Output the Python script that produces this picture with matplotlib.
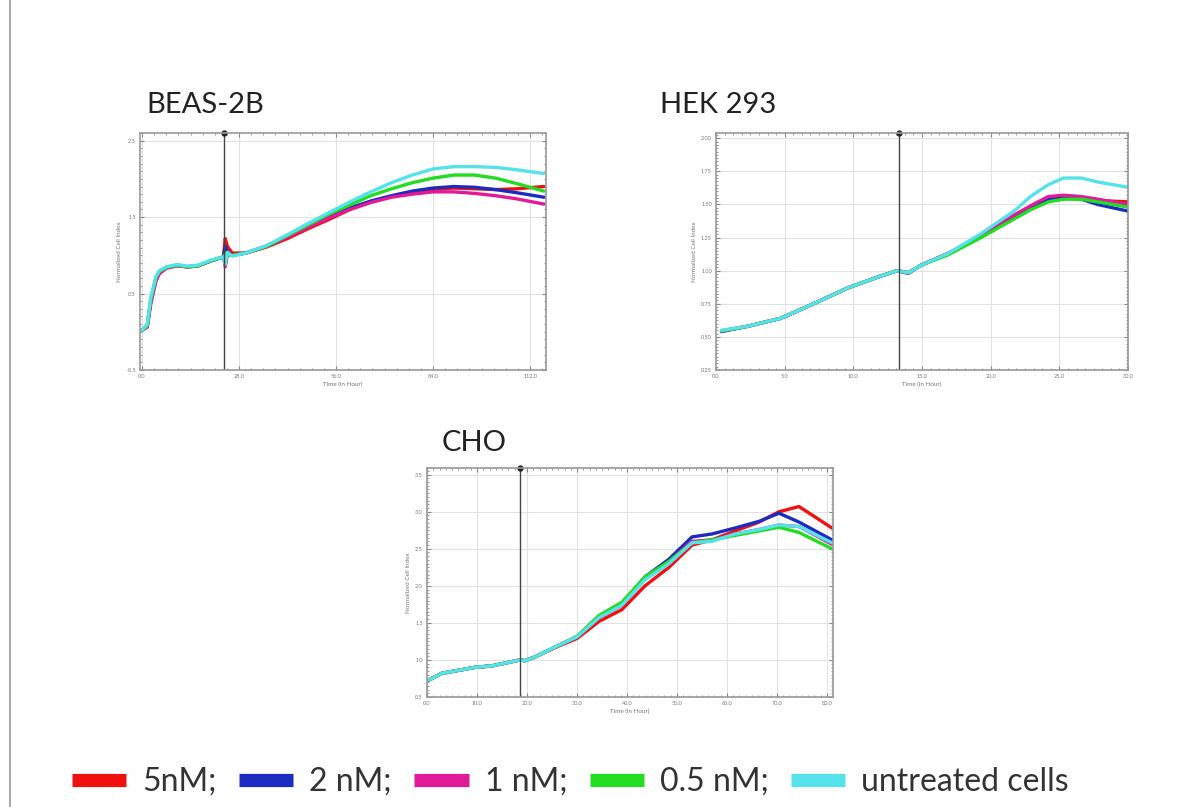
import matplotlib
matplotlib.use("Agg")
import matplotlib.pyplot as plt
from matplotlib.lines import Line2D
from matplotlib.ticker import AutoMinorLocator

plt.rcParams['font.family'] = ['Lato', 'DejaVu Sans']

series_names = ["5nM;", "2 nM;", "1 nM;", "0.5 nM;", "untreated cells"]
series_colors = ["#f01010", "#1c2cc0", "#e21a9a", "#22dd22", "#55e2ea"]

# BEAS-2B (normalized cell index vs time in hours)
beas_t = [0, 1.5, 2.5, 4, 5, 7, 10, 13, 16, 20, 23.5, 24, 24.6, 26, 30, 36, 42,
          48, 54, 60, 66, 72, 78, 84, 90, 96, 102, 108, 116]
beas_5nm = [0.02, 0.08, 0.40, 0.70, 0.78, 0.84, 0.87, 0.85, 0.86, 0.93, 0.98, 1.22, 1.12,
            1.03, 1.03, 1.11, 1.22, 1.35, 1.47, 1.60, 1.70, 1.77, 1.82, 1.86, 1.88,
            1.87, 1.86, 1.87, 1.90]
beas_2nm = [0.02, 0.08, 0.40, 0.70, 0.78, 0.84, 0.87, 0.85, 0.86, 0.93, 0.98, 1.12, 1.04,
            1.00, 1.03, 1.12, 1.25, 1.38, 1.50, 1.62, 1.71, 1.78, 1.84, 1.88, 1.90,
            1.89, 1.86, 1.82, 1.76]
beas_1nm = [0.02, 0.06, 0.36, 0.66, 0.76, 0.83, 0.86, 0.85, 0.86, 0.93, 0.98, 0.85, 1.00,
            1.00, 1.03, 1.12, 1.24, 1.37, 1.49, 1.60, 1.69, 1.76, 1.80, 1.83, 1.83,
            1.81, 1.78, 1.74, 1.67]
beas_05nm = [0.02, 0.08, 0.42, 0.71, 0.79, 0.84, 0.87, 0.85, 0.86, 0.93, 0.98, 1.02, 1.00,
             1.00, 1.03, 1.12, 1.26, 1.40, 1.54, 1.66, 1.78, 1.87, 1.95, 2.01, 2.05,
             2.05, 2.01, 1.94, 1.84]
beas_untr = [0.02, 0.10, 0.45, 0.72, 0.80, 0.85, 0.88, 0.86, 0.87, 0.94, 0.98, 0.88, 1.04,
             0.99, 1.03, 1.13, 1.27, 1.42, 1.56, 1.70, 1.83, 1.95, 2.05, 2.13, 2.16,
             2.16, 2.15, 2.12, 2.07]

# HEK 293
hek_t = [0.4, 2.3, 4.7, 7.1, 9.6, 12.0, 13.2, 14.0, 14.9, 16.9, 19.3, 21.7, 22.9,
         24.2, 25.3, 26.6, 27.8, 30.0]
hek_5nm = [0.545, 0.58, 0.64, 0.75, 0.87, 0.96, 1.0, 0.985, 1.04, 1.13, 1.26, 1.41,
           1.48, 1.55, 1.56, 1.55, 1.53, 1.52]
hek_2nm = [0.54, 0.58, 0.64, 0.75, 0.87, 0.96, 1.0, 0.98, 1.04, 1.13, 1.26, 1.41,
           1.48, 1.54, 1.55, 1.54, 1.50, 1.45]
hek_1nm = [0.545, 0.58, 0.64, 0.75, 0.87, 0.96, 1.0, 0.985, 1.04, 1.13, 1.27, 1.42,
           1.49, 1.56, 1.57, 1.56, 1.54, 1.50]
hek_05nm = [0.545, 0.58, 0.64, 0.75, 0.87, 0.96, 1.0, 0.985, 1.04, 1.12, 1.25, 1.39,
            1.46, 1.52, 1.54, 1.54, 1.52, 1.48]
hek_untr = [0.55, 0.58, 0.64, 0.75, 0.87, 0.96, 1.0, 0.985, 1.04, 1.13, 1.28, 1.45,
            1.56, 1.65, 1.70, 1.70, 1.67, 1.63]

# CHO
cho_t = [0.4, 3, 9.6, 13, 18.6, 19.6, 21.6, 26.4, 30, 34.4, 39, 43.6, 48.4, 53, 57,
         61.6, 66.4, 70.4, 74.4, 81]
cho_5nm = [0.73, 0.82, 0.90, 0.92, 1.0, 0.99, 1.04, 1.19, 1.29, 1.52, 1.68, 2.00, 2.25,
           2.55, 2.62, 2.74, 2.86, 3.00, 3.07, 2.78]
cho_2nm = [0.73, 0.82, 0.90, 0.92, 1.0, 0.99, 1.04, 1.20, 1.31, 1.58, 1.76, 2.12, 2.36,
           2.66, 2.70, 2.78, 2.87, 2.98, 2.86, 2.62]
cho_1nm = [0.73, 0.82, 0.90, 0.92, 1.0, 0.99, 1.04, 1.20, 1.31, 1.57, 1.74, 2.10, 2.33,
           2.60, 2.62, 2.70, 2.76, 2.82, 2.80, 2.56]
cho_05nm = [0.73, 0.82, 0.90, 0.92, 1.0, 0.99, 1.04, 1.20, 1.32, 1.60, 1.78, 2.12, 2.33,
            2.58, 2.62, 2.68, 2.74, 2.79, 2.72, 2.50]
cho_untr = [0.73, 0.82, 0.90, 0.92, 1.0, 0.99, 1.04, 1.20, 1.31, 1.57, 1.74, 2.08, 2.30,
            2.58, 2.60, 2.70, 2.76, 2.82, 2.80, 2.58]

W, H = 1200, 807
fig = plt.figure(figsize=(W / 100, H / 100), dpi=100)


def box(l, t, r, b):
    # pixel box -> figure fraction
    return [l / W, 1 - b / H, (r - l) / W, (b - t) / H]


def panel(rect, t, ys, xlim, xticks, xfmt, ylim, yticks, yfmt, t_treat):
    ax = fig.add_axes(rect)
    for y, c in zip(ys, series_colors):
        ax.plot(t, y, color=c, lw=2.4, solid_capstyle="round")
    ax.set_xlim(xlim)
    ax.set_ylim(ylim)
    ax.set_xticks(xticks)
    ax.set_xticklabels([xfmt.format(v) for v in xticks])
    ax.set_yticks(yticks)
    ax.set_yticklabels([yfmt.format(v) for v in yticks])
    ax.xaxis.set_minor_locator(AutoMinorLocator(8))
    ax.yaxis.set_minor_locator(AutoMinorLocator(10))
    ax.tick_params(which="both", direction="in", top=True, right=True,
                   color="#888888", labelsize=4, labelcolor="#777777", pad=3)
    ax.tick_params(which="major", length=3)
    ax.tick_params(which="minor", length=1.5)
    ax.grid(True, which="major", color="#e2e2e2", lw=0.8)
    ax.set_axisbelow(True)
    for s in ax.spines.values():
        s.set_color("#999999")
        s.set_linewidth(1.2)
    ax.axvline(t_treat, color="#444444", lw=1.0)
    ax.plot([t_treat], [ylim[1]], marker="o", ms=3.5, color="#222222", clip_on=False)
    ax.set_xlabel("Time (in Hour)", fontsize=4.5, color="#777777", labelpad=2)
    ax.set_ylabel("Normalized Cell Index", fontsize=4.5, color="#777777", labelpad=3)
    return ax


panel(box(140, 133, 546, 370), beas_t,
      [beas_5nm, beas_2nm, beas_1nm, beas_05nm, beas_untr],
      (-0.6, 116.6), [0, 28, 56, 84, 112], "{:.1f}",
      (-0.5, 2.6), [-0.5, 0.5, 1.5, 2.5], "{:.1f}", 23.7)

panel(box(716, 133, 1128, 370), hek_t,
      [hek_5nm, hek_2nm, hek_1nm, hek_05nm, hek_untr],
      (0, 30), [0, 5, 10, 15, 20, 25, 30], "{:.1f}",
      (0.25, 2.04), [0.25, 0.5, 0.75, 1.0, 1.25, 1.5, 1.75, 2.0], "{:.2f}", 13.3)

panel(box(427, 468, 833, 697), cho_t,
      [cho_5nm, cho_2nm, cho_1nm, cho_05nm, cho_untr],
      (0, 81.2), [0, 10, 20, 30, 40, 50, 60, 70, 80], "{:.1f}",
      (0.5, 3.59), [0.5, 1.0, 1.5, 2.0, 2.5, 3.0, 3.5], "{:.1f}", 18.6)

# panel titles
title_kw = dict(fontsize=21, color="#222222", va="baseline", ha="left")
fig.text(146 / W, 1 - 113 / H, "BEAS-2B", **title_kw)
fig.text(660 / W, 1 - 113 / H, "HEK 293", **title_kw)
fig.text(442 / W, 1 - 451 / H, "CHO", **title_kw)

# slide border on the left
fig.add_artist(Line2D([10 / W, 10 / W], [0, 1], color="#999999", lw=1.2))

handles = [Line2D([], [], color=c, lw=9.5, solid_capstyle="butt") for c in series_colors]
fig.legend(handles, series_names, loc="center left", bbox_to_anchor=(72 / W, 1 - 782 / H),
           ncol=5, frameon=False, fontsize=23, handlelength=1.7, handletextpad=0.5,
           columnspacing=0.7, labelcolor="#333333", borderpad=0, borderaxespad=0)

fig.savefig("out.png", dpi=100, facecolor="white")
